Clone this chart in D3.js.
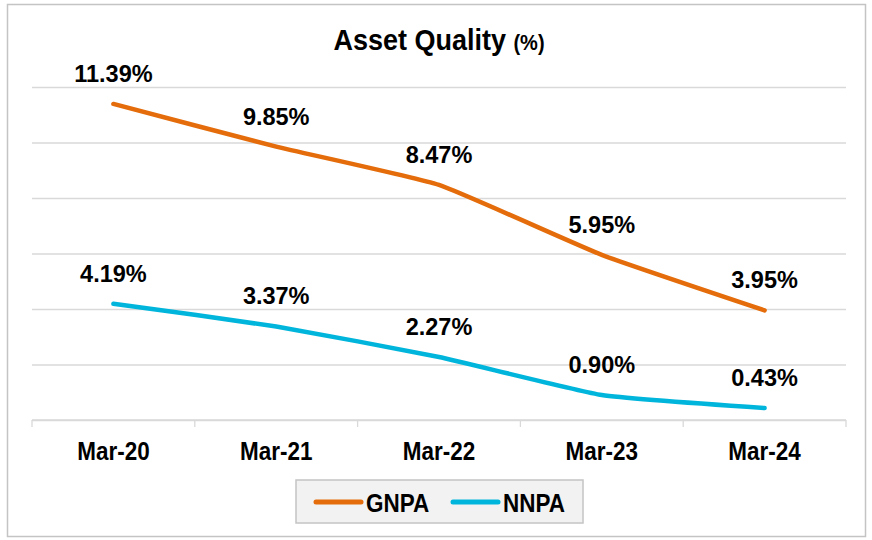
<!DOCTYPE html>
<html>
<head>
<meta charset="utf-8">
<script src="https://cdn.jsdelivr.net/npm/d3@7"></script>
<style>
  body { margin: 0; background: #ffffff; }
  text { font-family: "Liberation Sans", Arial, sans-serif; font-weight: bold; fill: #000000; }
</style>
</head>
<body>
<div id="chart"></div>
<script>
// Chart data
var categories = ["Mar-20", "Mar-21", "Mar-22", "Mar-23", "Mar-24"];
var gnpa = [11.39, 9.85, 8.47, 5.95, 3.95];
var nnpa = [4.19, 3.37, 2.27, 0.90, 0.43];
var yTicks = [0, 2, 4, 6, 8, 10, 12];
var seriesNames = ["GNPA", "NNPA"];

// SVG area dimensions
var svgWidth = 872;
var svgHeight = 540;

var margin = {
  top: 87,
  right: 26,
  bottom: 120,
  left: 32
};

var chartWidth = svgWidth - margin.left - margin.right;
var chartHeight = svgHeight - margin.top - margin.bottom;

var colors = ["#E46C0A", "#00B5DB"];

var svg = d3.select("#chart")
  .append("svg")
  .attr("width", svgWidth)
  .attr("height", svgHeight);

// outer chart border
svg.append("rect")
  .attr("x", 7.5)
  .attr("y", 4.5)
  .attr("width", 858)
  .attr("height", 532)
  .attr("fill", "#ffffff")
  .attr("stroke", "#c4c4c4")
  .attr("stroke-width", 1.5);

// title (stretched a little vertically, the source font is narrower)
var title = svg.append("text")
  .attr("transform", "translate(439, 50) scale(1, 1.1)")
  .attr("text-anchor", "middle");
title.append("tspan")
  .style("font-size", "27px")
  .text("Asset Quality ");
title.append("tspan")
  .style("font-size", "20px")
  .text("(%)");

var chartGroup = svg.append("g")
  .attr("transform", `translate(${margin.left}, ${margin.top})`);

// scales
var xScale = d3.scaleBand()
  .domain(categories)
  .range([0, chartWidth]);

var yScale = d3.scaleLinear()
  .domain([0, 12])
  .range([chartHeight, 0]);

// gridlines
chartGroup.append("g")
  .call(d3.axisLeft(yScale).tickValues(yTicks).tickSize(-chartWidth).tickFormat(""))
  .call(g => g.select(".domain").remove())
  .call(g => g.selectAll(".tick line").attr("stroke", "#d9d9d9").attr("stroke-width", 1.3));

// x axis line + tick marks at band edges
var bottomAxis = chartGroup.append("g")
  .attr("transform", `translate(0, ${chartHeight})`);

bottomAxis.append("line")
  .attr("x1", 0)
  .attr("x2", chartWidth)
  .attr("stroke", "#d9d9d9")
  .attr("stroke-width", 1.3);

var edges = categories.map(c => xScale(c)).concat([xScale.range()[1]]);
bottomAxis.selectAll("line.edge")
  .data(edges)
  .enter()
  .append("line")
  .attr("class", "edge")
  .attr("x1", d => d)
  .attr("x2", d => d)
  .attr("y1", 0)
  .attr("y2", 7)
  .attr("stroke", "#d9d9d9")
  .attr("stroke-width", 1.3);

bottomAxis.selectAll("text.cat")
  .data(categories)
  .enter()
  .append("text")
  .attr("class", "cat")
  .attr("transform", d => `translate(${xScale(d) + xScale.bandwidth() / 2}, 40) scale(1, 1.12)`)
  .attr("text-anchor", "middle")
  .style("font-size", "22.5px")
  .text(d => d);

// lines
var lineGen = d3.line()
  .x((d, i) => xScale(categories[i]) + xScale.bandwidth() / 2)
  .y(d => yScale(d))
  .curve(d3.curveCardinal.tension(0.6));

[gnpa, nnpa].forEach(function(values, s) {
  chartGroup.append("path")
    .datum(values)
    .attr("d", lineGen)
    .attr("fill", "none")
    .attr("stroke", colors[s])
    .attr("stroke-width", 4.5)
    .attr("stroke-linecap", "round")
    .attr("stroke-linejoin", "round");

  chartGroup.selectAll("text.lbl" + s)
    .data(values)
    .enter()
    .append("text")
    .attr("class", "lbl" + s)
    .attr("x", (d, i) => xScale(categories[i]) + xScale.bandwidth() / 2)
    .attr("y", d => yScale(d) - 22)
    .attr("text-anchor", "middle")
    .style("font-size", "23.5px")
    .text(d => d.toFixed(2) + "%");
});

// legend
var legend = svg.append("g")
  .attr("transform", "translate(296, 480)");

legend.append("rect")
  .attr("x", 0)
  .attr("y", 0)
  .attr("width", 287)
  .attr("height", 43)
  .attr("fill", "#f2f2f2")
  .attr("stroke", "#c4c4c4")
  .attr("stroke-width", 1.5);

var legendX = [20, 157];
seriesNames.forEach(function(name, i) {
  legend.append("line")
    .attr("x1", legendX[i])
    .attr("x2", legendX[i] + 45)
    .attr("y1", 22)
    .attr("y2", 22)
    .attr("stroke", colors[i])
    .attr("stroke-width", 5)
    .attr("stroke-linecap", "round");
  legend.append("text")
    .attr("transform", `translate(${legendX[i] + 50}, 32) scale(1, 1.12)`)
    .style("font-size", "22.5px")
    .text(name);
});
</script>
</body>
</html>
